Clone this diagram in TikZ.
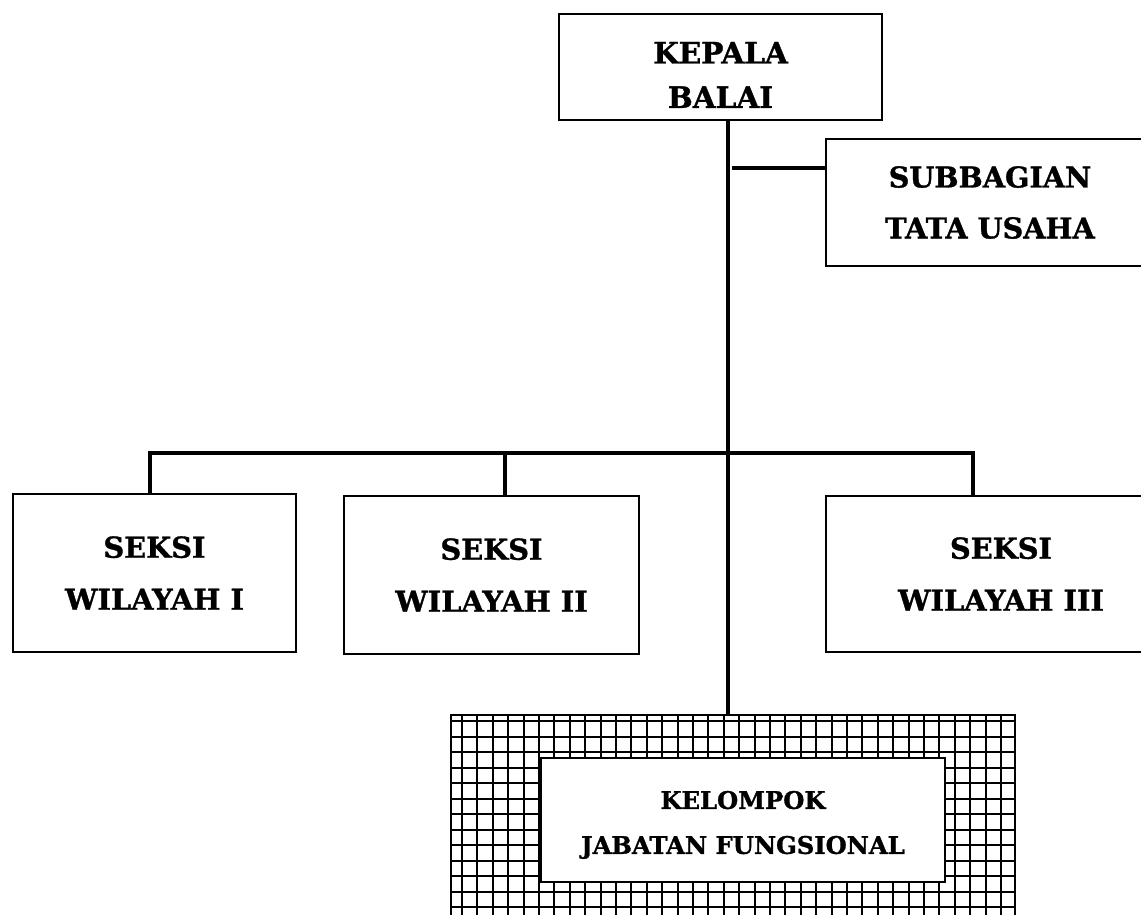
\documentclass[tikz,border=0pt]{standalone}
\usepackage{fontspec}
\setmainfont{DejaVu Serif}[BoldFeatures={FakeBold=1.2}]
\tikzset{
  box/.style={draw, line width=1.1pt, fill=white, align=center, inner sep=0pt},
  kbbox/.style={box, font=\bfseries\fontsize{16.8}{25.3}\selectfont},
  subbox/.style={box, font=\bfseries\fontsize{16.3}{29}\selectfont},
  seksi/.style={box, font=\bfseries\fontsize{16.4}{29.6}\selectfont},
  jfbox/.style={box, font=\bfseries\fontsize{13.8}{25.6}\selectfont},
  gridbox/.style={draw, line width=1.1pt},
  conn/.style={line width=2.5pt},
  gridline/.style={line width=1.15pt},
}
\begin{document}
\begin{tikzpicture}[x=0.02cm, y=-0.02cm]
\useasboundingbox (0,0) rectangle (1141,914);
\coordinate (fork) at (728,453);
\coordinate (b1) at (150,453);
\coordinate (b2) at (505,453);
\coordinate (b3) at (973,453);
\coordinate (tu) at (732,168);
\node[kbbox, minimum width=6.46cm, minimum height=2.12cm] (kb) at (720.5,67) {\rule{0pt}{21.3pt}KEPALA\\BALAI};
\node[subbox, minimum width=6.56cm, minimum height=2.54cm] (sub) at (990,202.5) {SUBBAGIAN\\TATA USAHA};
\node[seksi, minimum width=5.66cm, minimum height=3.16cm] (s1) at (154.5,573) {SEKSI\\WILAYAH I};
\node[seksi, minimum width=5.9cm, minimum height=3.16cm] (s2) at (491.5,575) {SEKSI\\WILAYAH II};
\node[seksi, minimum width=7cm, minimum height=3.12cm] (s3) at (1001,574) {SEKSI\\WILAYAH III};
\node[gridbox, minimum width=11.28cm, minimum height=4.5cm] (grid) at (733,827.5) {};
% the hatching
\foreach \gx in {462,477.4,...,1012} \draw[gridline] (\gx,715) -- (\gx,940);
\foreach \gy in {721,736.5,...,914} \draw[gridline] (451,\gy) -- (1015,\gy);
\node[jfbox, minimum width=8.08cm, minimum height=2.48cm] (jf) at (743,820) {\rule{0pt}{15.8pt}KELOMPOK\\JABATAN FUNGSIONAL};
% lines
\draw[conn] (kb.south -| fork) -- (fork |- grid.north);
\draw[conn] (tu) -- (tu -| sub.west);
\draw[conn] (s1.north -| b1) -- (b1) -- (b3) -- (s3.north -| b3);
\draw[conn] (b2) -- (s2.north -| b2);
\end{tikzpicture}
\end{document}
